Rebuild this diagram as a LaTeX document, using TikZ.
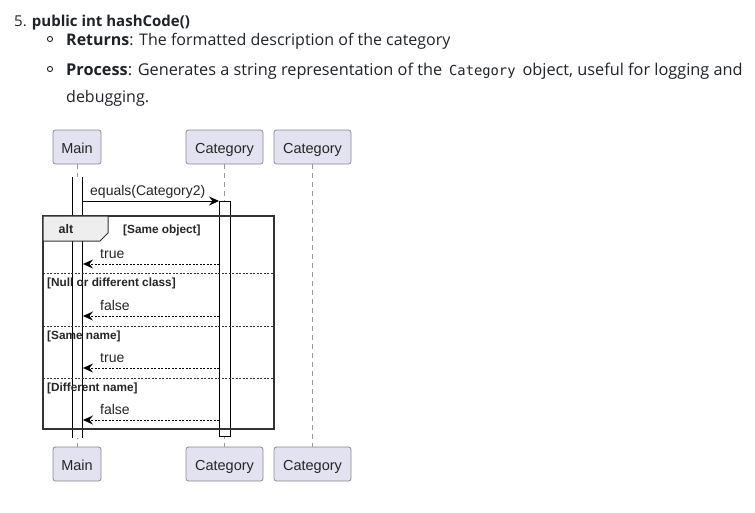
\documentclass[tikz,border=0pt]{standalone}
\usepackage{fontspec}
\setmainfont{Open Sans}
\newfontfamily\diagf{Liberation Sans}
\newfontfamily\codef{DejaVu Sans Mono}
\usetikzlibrary{arrows.meta}
\definecolor{txt}{HTML}{1F2328}
\definecolor{partfill}{HTML}{E2E2F0}
\definecolor{partdraw}{HTML}{8A8A8A}
\definecolor{tabfill}{HTML}{EEEEEE}
\definecolor{frame}{HTML}{333333}
\tikzset{
  hdr/.style={anchor=base west, inner sep=0pt, text=txt, font=\fontsize{16}{19}\selectfont},
  part/.style={draw=partdraw, fill=partfill, rounded corners=2.5pt, line width=0.8pt,
    minimum height=34pt, inner sep=0pt, text height=13pt, text depth=1pt,
    font=\diagf\fontsize{14.5}{16}\selectfont, text=black!85},
  lifeline/.style={draw=black!40, line width=0.8pt, dash pattern=on 5pt off 4pt},
  msg/.style={line width=0.8pt, -{Stealth[length=10pt,width=9pt,inset=3.5pt]}},
  ret/.style={msg, dash pattern=on 2pt off 1.5pt},
  msglabel/.style={anchor=base west, inner sep=0pt, font=\diagf\fontsize{14}{15}\selectfont, text=black!85},
  guard/.style={anchor=base west, inner sep=0pt, font=\diagf\bfseries\fontsize{11.8}{13}\selectfont, text=black!85},
  divider/.style={line width=0.7pt, dash pattern=on 2pt off 1.5pt, draw=black!80},
}
\begin{document}
\begin{tikzpicture}[x=1pt,y=-1pt]
\useasboundingbox (0,0) rectangle (755,512);
% header text
\node[hdr, font=\fontsize{15}{18}\selectfont] (title) at (14,26) {5. \textbf{public int hashCode()}};
\draw[txt, line width=0.9pt] (50,39) circle (2.6pt);
\node[hdr] (ret) at (66,45) {\textbf{Returns}: The formatted description of the category};
\draw[txt, line width=0.9pt] (50,69) circle (2.6pt);
\node[hdr, font=\fontsize{16.3}{19}\selectfont] (proc) at (66,75) {\textbf{Process}: Generates a string representation of the \,{\codef\fontsize{13.8}{15}\selectfont Category}\, object, useful for logging and};
\node[hdr] (debug) at (66,102) {debugging.};

% participants
\node[part, minimum width=48pt] (mainT) at (77,147) {Main};
\node[part, minimum width=77pt] (cat1T) at (224.5,147) {Category};
\node[part, minimum width=77pt] (cat2T) at (312.5,147) {Category};
\node[part, minimum width=48pt] (mainB) at (77,464) {Main};
\node[part, minimum width=77pt] (cat1B) at (224.5,464) {Category};
\node[part, minimum width=77pt] (cat2B) at (312.5,464) {Category};

% lifelines
\draw[lifeline] (mainT) -- (mainB);
\draw[lifeline] (cat1T) -- (cat1B);
\draw[lifeline] (cat2T) -- (cat2B);

% activations
\fill[white] (72,177) rectangle (82,438);
\draw[line width=0.8pt] (72,177) -- (72,438) (82,177) -- (82,438);
\node[draw, fill=white, line width=0.8pt, minimum width=11pt, minimum height=235pt, inner sep=0pt] (cat1act) at (224.5,318.5) {};

% message
\coordinate (mA) at (82.5,201);
\coordinate (cA) at (219,201);
\draw[msg] (mA) -- (cA);
\node[msglabel] (lblEq) at (90,195) {equals(Category2)};

% alt frame
\draw[frame, line width=1.6pt] (43,216) rectangle (274,429);
\draw[frame, fill=tabfill, line width=1pt] (43,216) -- (108,216) -- (108,233) -- (100,241) -- (43,241) -- cycle;
\node[guard, anchor=center, font=\diagf\bfseries\fontsize{12.5}{14}\selectfont] (altlbl) at (66,229) {alt};
\node[guard] (g1) at (123,233) {[Same object]};

% return 1
\coordinate (c1) at (219,264);
\coordinate (m1) at (83,264);
\draw[ret] (c1) -- (m1);
\node[msglabel] (l1) at (100,258) {true};

\draw[divider] (43,273) -- (274,273);
\node[guard] (g2) at (47,286) {[Null or different class]};

\coordinate (c2) at (219,316);
\coordinate (m2) at (83,316);
\draw[ret] (c2) -- (m2);
\node[msglabel] (l2) at (100,310) {false};

\draw[divider] (43,326) -- (274,326);
\node[guard] (g3) at (47,339) {[Same name]};

\coordinate (c3) at (219,368);
\coordinate (m3) at (83,368);
\draw[ret] (c3) -- (m3);
\node[msglabel] (l3) at (100,362) {true};

\draw[divider] (43,378) -- (274,378);
\node[guard] (g4) at (47,391) {[Different name]};

\coordinate (c4) at (219,420);
\coordinate (m4) at (83,420);
\draw[ret] (c4) -- (m4);
\node[msglabel] (l4) at (100,414) {false};
\end{tikzpicture}
\end{document}
